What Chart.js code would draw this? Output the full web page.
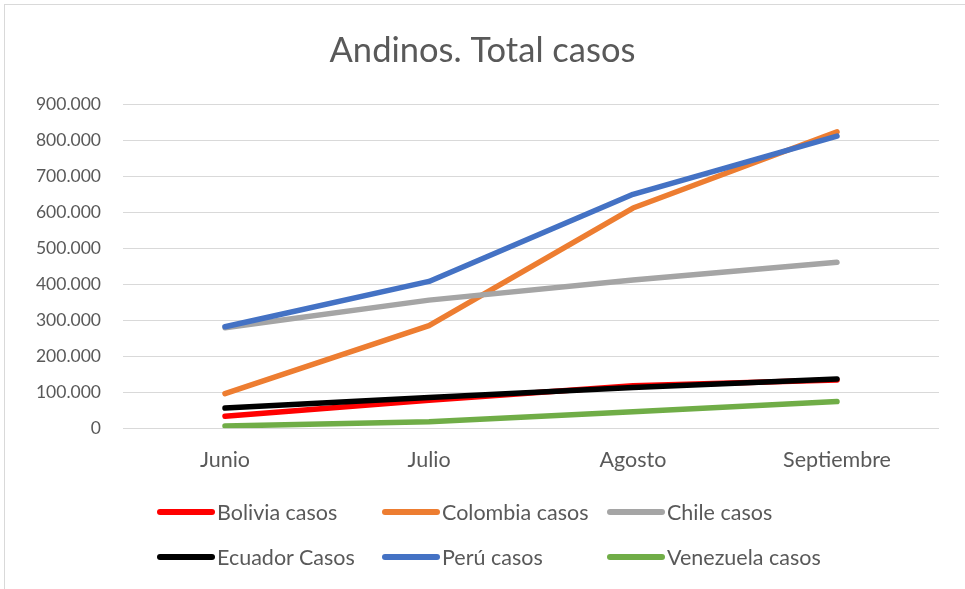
<!DOCTYPE html>
<html>
<head>
<meta charset="utf-8">
<script src="https://cdn.jsdelivr.net/npm/chart.js@4.4.1/dist/chart.umd.min.js"></script>
<style>
  html, body { margin: 0; padding: 0; background: #fff; }
  #wrap { position: relative; width: 965px; height: 589px; overflow: hidden; }
  #frame { position: absolute; left: 4px; top: 4px; width: 970px; height: 590px; border: 1px solid #d9d9d9; box-sizing: border-box; pointer-events: none; }
  canvas { position: absolute; left: 0; top: 0; }
  #legend { position: absolute; left: 157px; top: 497px; display: grid; grid-template-columns: 225px 225px 225px; row-gap: 15px; font-family: Lato, "Open Sans", sans-serif; font-size: 21.5px; color: #595959; }
  .item { display: flex; align-items: center; height: 30px; white-space: nowrap; }
  .swatch { width: 58px; height: 6px; border-radius: 3px; margin-right: 2px; }
</style>
</head>
<body>
<div id="wrap">
  <canvas id="c" width="965" height="589"></canvas>
  <div id="frame"></div>
  <div id="legend"></div>
</div>
<script>
const months = ["Junio", "Julio", "Agosto", "Septiembre"];
const seriesNames = ["Bolivia casos", "Colombia casos", "Chile casos", "Ecuador Casos", "Perú casos", "Venezuela casos"];
const seriesColors = ["#ff0000", "#ed7d31", "#a5a5a5", "#000000", "#4472c4", "#70ad47"];
const bolivia   = [33000, 78000, 118000, 134000];
const colombia  = [96000, 285000, 612000, 824000];
const chile     = [279000, 356000, 412000, 461000];
const ecuador   = [56000, 85000, 113000, 137000];
const peru      = [282000, 408000, 650000, 812000];
const venezuela = [6000, 18000, 46000, 74000];
const yTicks = [0, 100000, 200000, 300000, 400000, 500000, 600000, 700000, 800000, 900000];

const seriesValues = [bolivia, colombia, chile, ecuador, peru, venezuela];
const FONT = "Lato, 'Open Sans', sans-serif";
const TXT = "#595959";

function fmt(v) {
  return String(v).replace(/\B(?=(\d{3})+(?!\d))/g, ".");
}

const datasets = seriesNames.map((n, i) => ({
  label: n,
  data: seriesValues[i],
  borderColor: seriesColors[i],
  backgroundColor: seriesColors[i],
  borderWidth: 5.5,
  borderCapStyle: "round",
  borderJoinStyle: "round",
  pointRadius: 0,
  tension: 0,
  order: seriesNames.length - i
}));

const chart = new Chart(document.getElementById("c"), {
  type: "line",
  data: { labels: months, datasets },
  options: {
    responsive: false,
    animation: false,
    layout: { padding: { left: 0, right: 0, top: 0, bottom: 97 } },
    plugins: {
      legend: { display: false },
      tooltip: { enabled: false },
      title: {
        display: true,
        text: "Andinos. Total casos",
        color: TXT,
        font: { family: FONT, size: 34.5, weight: "normal" },
        padding: { top: 30, bottom: 33 }
      }
    },
    scales: {
      x: {
        offset: true,
        grid: { display: false, drawTicks: false },
        border: { display: false },
        ticks: { color: TXT, font: { family: FONT, size: 21.5 }, padding: 19, maxRotation: 0 }
      },
      y: {
        min: 0,
        max: 900000,
        afterBuildTicks: (s) => { s.ticks = yTicks.map(v => ({ value: v })); },
        afterFit: (s) => { s.width = 123; },
        grid: { color: "#d9d9d9", lineWidth: 1, drawTicks: false },
        border: { display: false },
        ticks: { color: TXT, font: { family: FONT, size: 17.5 }, padding: 22, callback: (v) => fmt(v) }
      },
      yRight: {
        position: "right",
        min: 0,
        max: 900000,
        afterFit: (s) => { s.width = 26; },
        grid: { display: false, drawTicks: false },
        border: { display: false },
        ticks: { display: false }
      }
    }
  }
});

const legendEl = document.getElementById("legend");
seriesNames.forEach((n, i) => {
  const d = document.createElement("div");
  d.className = "item";
  const sw = document.createElement("span");
  sw.className = "swatch";
  sw.style.background = seriesColors[i];
  const t = document.createElement("span");
  t.textContent = n;
  d.appendChild(sw);
  d.appendChild(t);
  legendEl.appendChild(d);
});
</script>
</body>
</html>
